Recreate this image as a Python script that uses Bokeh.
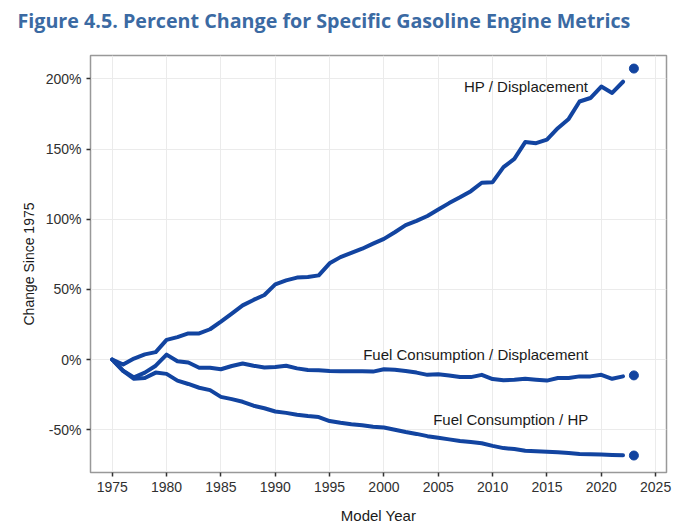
from bokeh.plotting import figure
from bokeh.models import FixedTicker, PrintfTickFormatter, Range1d, ColumnDataSource, Title
from bokeh.core.properties import value
from bokeh.embed import file_html
from bokeh.resources import INLINE

years = list(range(1975, 2023))
hp_disp = [0, -3.5, 0.7, 3.7, 5.3, 14, 16, 18.6, 18.6, 21.6,
           27, 32.8, 38.6, 42.5, 46, 53.6, 56.4, 58.4, 58.8, 60,
           68.6, 73, 76, 79, 82.6, 86, 90.7, 95.8, 98.8, 102.3,
           106.9, 111.5, 115.6, 120, 126, 126.4, 137.2, 143, 155, 154.2,
           156.7, 164.9, 171.5, 183.9, 186.4, 194.6, 190, 198]
fc_disp = [0, -8, -12.7, -9.3, -4.4, 3.5, -1.2, -2.1, -5.8, -5.8,
           -6.9, -4.6, -2.8, -4.4, -5.6, -5.3, -4.4, -6.3, -7.4, -7.6,
           -8.1, -8.3, -8.3, -8.3, -8.6, -6.9, -7.2, -8.1, -9.3, -10.9,
           -10.4, -11.3, -12.5, -12.5, -10.9, -13.9, -14.8, -14.4, -13.7, -14.4,
           -15, -13.2, -13.2, -12, -12, -10.9, -13.7, -12]
fc_hp = [0, -8.1, -13.7, -13.2, -9.3, -10.2, -15, -17.4, -20.1, -21.8,
         -26.6, -28.2, -30.1, -32.9, -34.7, -37, -38, -39.4, -40.3, -41,
         -43.8, -45.1, -46.1, -46.8, -47.9, -48.4, -50, -51.6, -53, -54.6,
         -55.8, -56.9, -58.1, -58.8, -59.7, -61.5, -63.1, -63.8, -65, -65.4,
         -65.7, -66.1, -66.6, -67.3, -67.5, -67.7, -68, -68.2]

point_year = [2023, 2023, 2023]
point_values = [207.4, -11.3, -68.4]

label_texts = ["HP / Displacement", "Fuel Consumption / Displacement", "Fuel Consumption / HP"]
label_x = [2018.8, 2018.8, 2018.8]
label_y = [194.5, 3.6, -42.7]

x_ticks = [1975, 1980, 1985, 1990, 1995, 2000, 2005, 2010, 2015, 2020, 2025]
y_ticks = [-50, 0, 50, 100, 150, 200]

LINE = "#1244a0"

p = figure(width=680, height=528, output_backend="svg", toolbar_location=None,
           x_range=Range1d(1973.0, 2026.0), y_range=Range1d(-80.5, 216.7),
           min_border_left=90, min_border_right=14, min_border_top=55, min_border_bottom=56)

p.title.text = "Figure 4.5. Percent Change for Specific Gasoline Engine Metrics"
p.title.text_font = "Open Sans"
p.title.text_font_style = "bold"
p.title.text_font_size = "19.7px"
p.title.text_color = "#3b6aa3"
p.title.align = "left"
p.title.offset = -73
p.title.standoff = 8

# spacer between the title and the plot frame
p.add_layout(Title(text=" ", text_font_size="1px", standoff=15), "above")

for ys in (hp_disp, fc_disp, fc_hp):
    p.line(years, ys, line_color=LINE, line_width=4, line_join="round", line_cap="round")

p.scatter(point_year, point_values, size=9, fill_color=LINE, line_color=LINE)

src = ColumnDataSource(dict(x=label_x, y=label_y, t=label_texts))
p.text(x="x", y="y", text="t", source=src, text_align="right", text_baseline="middle",
       text_font=value("Liberation Sans"), text_font_size="15px", text_color="#1a1a1a")

p.xaxis.ticker = FixedTicker(ticks=x_ticks)
p.yaxis.ticker = FixedTicker(ticks=y_ticks)
p.yaxis.formatter = PrintfTickFormatter(format="%d%%")
p.xaxis.axis_label = "Model Year"
p.yaxis.axis_label = "Change Since 1975"

for ax in (p.xaxis[0], p.yaxis[0]):
    ax.axis_line_color = None
    ax.major_tick_line_color = "#333333"
    ax.major_tick_line_width = 1.5
    ax.major_tick_out = 4
    ax.major_tick_in = 0
    ax.minor_tick_line_color = None
    ax.major_label_text_font = "Liberation Sans"
    ax.major_label_text_font_size = "14px"
    ax.major_label_text_color = "#303030"
    ax.axis_label_text_font = "Liberation Sans"
    ax.axis_label_text_font_style = "normal"
    ax.axis_label_text_color = "#1a1a1a"

p.xaxis.axis_label_text_font_size = "15px"
p.yaxis.axis_label_text_font_size = "14px"
p.xaxis.major_label_standoff = 5
p.yaxis.major_label_standoff = 5
p.xaxis.axis_label_standoff = 12
p.yaxis.axis_label_standoff = 6

p.xgrid.grid_line_color = "#ebebeb"
p.ygrid.grid_line_color = "#ebebeb"
p.xgrid.grid_line_width = 1
p.ygrid.grid_line_width = 1

p.outline_line_color = "#999999"
p.outline_line_width = 1.5

open("out.html", "w").write(file_html(p, INLINE))
